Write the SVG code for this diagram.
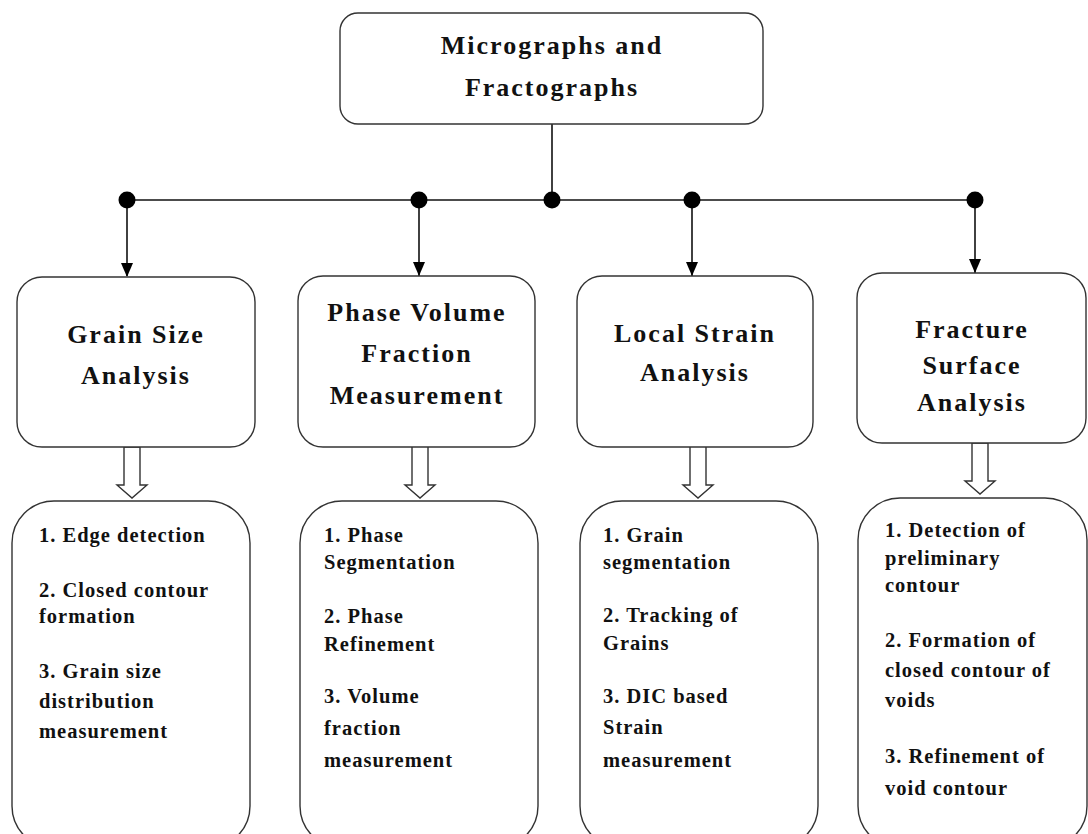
<svg xmlns="http://www.w3.org/2000/svg" width="1088" height="834" viewBox="0 0 1088 834">
<style>
  .box { fill: #ffffff; stroke: #333333; stroke-width: 1.4; }
  .line { stroke: #111111; stroke-width: 1.6; fill: none; }
  .dot { fill: #000000; }
  .hollow { fill: #ffffff; stroke: #333333; stroke-width: 1.4; stroke-linejoin: miter; }
  .title { font-family: "Liberation Serif", "Times New Roman", serif; font-weight: bold; font-size: 26px; letter-spacing: 2px; text-anchor: middle; fill: #111111; }
  .item { font-family: "Liberation Serif", "Times New Roman", serif; font-weight: bold; font-size: 20.5px; letter-spacing: 1px; fill: #111111; }
</style>
<rect width="1088" height="834" fill="#ffffff"/>

<g id="connectors">
  <line class="line" x1="552" y1="124" x2="552" y2="200"/>
  <line class="line" x1="127" y1="200" x2="975" y2="200"/>
  <path class="line" d="M127,200 V276" />
  <path class="line" d="M419,200 V276" />
  <path class="line" d="M692,200 V276" />
  <path class="line" d="M975,200 V273" />
  <polygon points="121,263 133,263 127,277" fill="#000"/>
  <polygon points="413,262 425,262 419,276" fill="#000"/>
  <polygon points="686,262 698,262 692,276" fill="#000"/>
  <polygon points="969,259 981,259 975,273" fill="#000"/>
  <circle class="dot" cx="127" cy="200" r="8.5"/>
  <circle class="dot" cx="419" cy="200" r="8.5"/>
  <circle class="dot" cx="552" cy="200" r="8.5"/>
  <circle class="dot" cx="692" cy="200" r="8.5"/>
  <circle class="dot" cx="975" cy="200" r="8.5"/>
  <polygon class="hollow" points="124,447 140,447 140,485 147,485 132,498 117,485 124,485"/>
  <polygon class="hollow" points="412,446 428,446 428,485 435,485 420,498 405,485 412,485"/>
  <polygon class="hollow" points="690,446 706,446 706,485 713,485 698,498 683,485 690,485"/>
  <polygon class="hollow" points="972,443 988,443 988,481 995,481 980,494 965,481 972,481"/>
</g>

<g id="node-top">
  <rect class="box" x="340" y="13" width="423" height="111" rx="18"/>
  <text class="title" x="552" y="54">Micrographs and</text>
  <text class="title" x="552" y="96">Fractographs</text>
</g>

<g id="node-grain">
  <rect class="box" x="17" y="277" width="238" height="170" rx="25"/>
  <text class="title" x="136" y="343">Grain Size</text>
  <text class="title" x="136" y="384">Analysis</text>
</g>

<g id="node-phase">
  <rect class="box" x="298" y="276" width="237" height="171" rx="25"/>
  <text class="title" x="417" y="321">Phase Volume</text>
  <text class="title" x="417" y="362">Fraction</text>
  <text class="title" x="417" y="404">Measurement</text>
</g>

<g id="node-local">
  <rect class="box" x="577" y="276" width="236" height="171" rx="25"/>
  <text class="title" x="695" y="342">Local Strain</text>
  <text class="title" x="695" y="381">Analysis</text>
</g>

<g id="node-fracture">
  <rect class="box" x="857" y="273" width="229" height="170" rx="25"/>
  <text class="title" x="972" y="338">Fracture</text>
  <text class="title" x="972" y="374">Surface</text>
  <text class="title" x="972" y="411">Analysis</text>
</g>

<g id="node-grain-steps">
  <rect class="box" x="12" y="501" width="238" height="347" rx="42"/>
  <text class="item" x="39" y="542">1. Edge  detection</text>
  <text class="item" x="39" y="597">2. Closed contour</text>
  <text class="item" x="39" y="623">formation</text>
  <text class="item" x="39" y="678">3. Grain size</text>
  <text class="item" x="39" y="708">distribution</text>
  <text class="item" x="39" y="738">measurement</text>
</g>

<g id="node-phase-steps">
  <rect class="box" x="300" y="501" width="238" height="347" rx="42"/>
  <text class="item" x="324" y="542">1. Phase</text>
  <text class="item" x="324" y="569">Segmentation</text>
  <text class="item" x="324" y="623">2. Phase</text>
  <text class="item" x="324" y="651">Refinement</text>
  <text class="item" x="324" y="703">3. Volume</text>
  <text class="item" x="324" y="735">fraction</text>
  <text class="item" x="324" y="767">measurement</text>
</g>

<g id="node-local-steps">
  <rect class="box" x="580" y="501" width="238" height="347" rx="42"/>
  <text class="item" x="603" y="542">1. Grain</text>
  <text class="item" x="603" y="569">segmentation</text>
  <text class="item" x="603" y="622">2. Tracking of</text>
  <text class="item" x="603" y="650">Grains</text>
  <text class="item" x="603" y="703">3. DIC based</text>
  <text class="item" x="603" y="734">Strain</text>
  <text class="item" x="603" y="767">measurement</text>
</g>

<g id="node-fracture-steps">
  <rect class="box" x="858" y="498" width="229" height="350" rx="42"/>
  <text class="item" x="885" y="537">1. Detection of</text>
  <text class="item" x="885" y="565">preliminary</text>
  <text class="item" x="885" y="592">contour</text>
  <text class="item" x="885" y="647">2. Formation of</text>
  <text class="item" x="885" y="677">closed contour of</text>
  <text class="item" x="885" y="707">voids</text>
  <text class="item" x="885" y="763">3. Refinement of</text>
  <text class="item" x="885" y="795">void contour</text>
</g>
</svg>
